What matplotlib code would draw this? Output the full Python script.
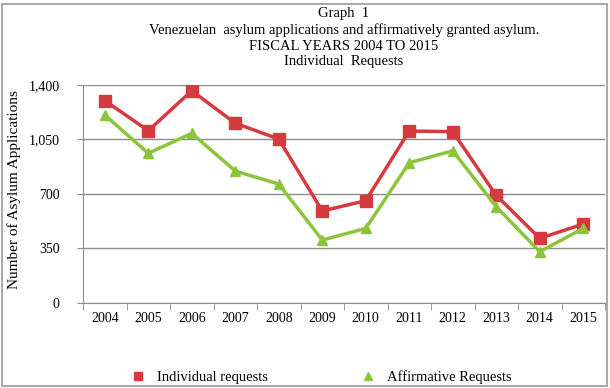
import matplotlib
matplotlib.use("Agg")
import matplotlib.pyplot as plt
from matplotlib.patches import Rectangle

years = ["2004", "2005", "2006", "2007", "2008", "2009", "2010", "2011", "2012", "2013", "2014", "2015"]
individual = [1300, 1106, 1363, 1154, 1053, 590, 656, 1104, 1100, 690, 414, 506]
affirmative = [1207, 961, 1089, 847, 763, 403, 478, 900, 977, 617, 328, 478]
yticks = [0, 350, 700, 1050, 1400]
ytick_labels = ["0", "350", "700", "1,050", "1,400"]

plt.rcParams['font.family'] = ['Liberation Serif', 'DejaVu Serif']

fig = plt.figure(figsize=(6.10, 3.88), dpi=100)
W, H = 610, 388
ax = fig.add_axes([83 / W, 1 - 302.7 / H, (605 - 83) / W, (302.7 - 85) / H])

x = list(range(len(years)))
red = "#D6393E"
green = "#8CC43C"
ax.plot(x, individual, color=red, lw=2.5, marker="s", ms=8, label="Individual requests", zorder=3)
ax.plot(x, affirmative, color=green, lw=2.5, marker="^", ms=7, label="Affirmative Requests", zorder=3)

ax.set_xlim(-0.5, len(years) - 0.5)
ax.set_ylim(0, 1400)
ax.set_yticks(yticks)
ax.set_yticklabels(ytick_labels, fontsize=10)
ax.yaxis.grid(True, color="#8c8c8c", lw=1)
ax.set_axisbelow(True)
ax.tick_params(axis="y", length=4, color="#8c8c8c", pad=13)

ax.set_xticks(x)
ax.set_xticklabels(years, fontsize=10)
ax.set_xticks([i - 0.5 for i in range(len(years) + 1)], minor=True)
ax.tick_params(axis="x", which="major", length=0, pad=7)
ax.tick_params(axis="x", which="minor", length=5, color="#8c8c8c")

for s in ["top", "right"]:
    ax.spines[s].set_visible(False)
ax.spines["left"].set_color("#8c8c8c")
ax.spines["bottom"].set_color("#8c8c8c")

fig.text(14 / W, 1 - 190 / H, "Number of Asylum Applications", rotation=90,
         ha="center", va="center", fontsize=11)

title_lines = ["Graph  1",
               "Venezuelan  asylum applications and affirmatively granted asylum.",
               "FISCAL YEARS 2004 TO 2015",
               "Individual  Requests"]
ys = [13, 30, 46, 62]
for t, yy in zip(title_lines, ys):
    fig.text(344 / W, 1 - yy / H, t, ha="center", va="center", fontsize=10.5)

leg = fig.legend(loc="center", bbox_to_anchor=(321 / W, 1 - 377 / H), ncol=2, frameon=False,
                 fontsize=10.5, handlelength=1.0, handletextpad=0.8, columnspacing=6.4,
                 markerscale=0.75)
for h in leg.legend_handles:
    h.set_linestyle("none")

fig.patches.append(Rectangle((2 / W, 2 / H), 605 / W, 382 / H, transform=fig.transFigure,
                             fill=False, edgecolor="#9a9a9a", lw=1.2))

fig.savefig("out.png", dpi=100)
